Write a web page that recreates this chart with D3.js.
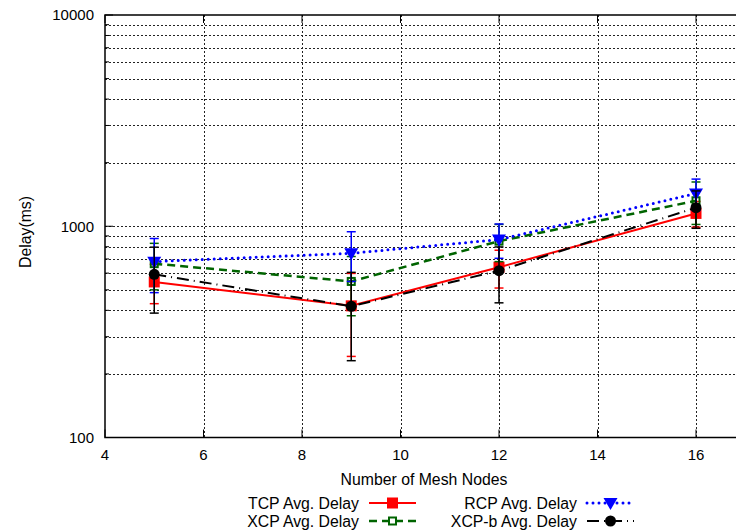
<!DOCTYPE html>
<html>
<head>
<meta charset="utf-8">
<script src="https://cdn.jsdelivr.net/npm/d3@7"></script>
<style>
  body { margin: 0; background: #fff; }
  text { font-family: "Liberation Sans", Arial, sans-serif; fill: #000; }
</style>
</head>
<body>
<script>
'use strict';

// node counts on the x axis
const nodes = [5, 9, 12, 16];

// average delay (ms) and error (std) per protocol
const tcpDelay = [545, 420, 640, 1150];
const tcpErr = [115, 178, 130, 160];
const xcpDelay = [665, 548, 850, 1320];
const xcpErr = [165, 171, 170, 300];
const rcpDelay = [680, 745, 865, 1430];
const rcpErr = [195, 197, 160, 242];
const xcpbDelay = [592, 418, 616, 1224];
const xcpbErr = [204, 187, 182, 246];

// tick labels
const xTicks = [4, 6, 8, 10, 12, 14, 16];
const yMajor = [100, 1000, 10000];

(function() {
  const W = 736, H = 531;
  const plotLeft = 105, plotTop = 15, plotBottom = 437.5;
  const wordSize = '15.8px';

  const svg = d3.select('body').append('svg')
    .attr('width', W)
    .attr('height', H);

  // x range goes past the window edge, the picture is cut at the right
  const x = d3.scaleLinear().domain([4, 18]).range([plotLeft, plotLeft + 14 * 49.25]);
  const y = d3.scaleLog().domain([100, 10000]).range([plotBottom, plotTop]);
  const plotRight = x(18);

  // minor y values for grid + ticks
  let yMinor = [];
  [100, 1000].forEach((d) => {
    for (let k = 2; k <= 9; k++) yMinor.push(d * k);
  });

  // grid
  const grid = svg.append('g')
    .attr('stroke', '#222')
    .attr('stroke-width', 1)
    .attr('stroke-dasharray', '2,2');
  yMajor.concat(yMinor).forEach((v) => {
    if (v === 100 || v === 10000) return;
    grid.append('line')
      .attr('x1', plotLeft).attr('x2', plotRight)
      .attr('y1', Math.round(y(v)) + 0.5).attr('y2', Math.round(y(v)) + 0.5);
  });
  xTicks.forEach((v) => {
    if (v === 4) return;
    grid.append('line')
      .attr('x1', Math.round(x(v)) + 0.5).attr('x2', Math.round(x(v)) + 0.5)
      .attr('y1', plotTop).attr('y2', plotBottom);
  });

  // ticks (inward)
  const ticks = svg.append('g').attr('stroke', '#000').attr('stroke-width', 1);
  yMajor.forEach((v) => {
    ticks.append('line').attr('x1', plotLeft).attr('x2', plotLeft + 8)
      .attr('y1', y(v)).attr('y2', y(v));
  });
  yMinor.forEach((v) => {
    ticks.append('line').attr('x1', plotLeft).attr('x2', plotLeft + 4)
      .attr('y1', y(v)).attr('y2', y(v));
  });
  xTicks.forEach((v) => {
    ticks.append('line').attr('x1', x(v)).attr('x2', x(v))
      .attr('y1', plotBottom).attr('y2', plotBottom - 8);
    ticks.append('line').attr('x1', x(v)).attr('x2', x(v))
      .attr('y1', plotTop).attr('y2', plotTop + 8);
  });

  // frame
  svg.append('rect')
    .attr('x', plotLeft).attr('y', plotTop)
    .attr('width', plotRight - plotLeft).attr('height', plotBottom - plotTop)
    .attr('fill', 'none')
    .attr('stroke', '#000')
    .attr('stroke-width', 1.5);

  // tick labels
  svg.selectAll('.ylab')
    .data(yMajor)
    .enter()
    .append('text')
      .attr('x', 94)
      .attr('y', (d) => y(d))
      .attr('dy', '0.36em')
      .attr('text-anchor', 'end')
      .style('font-size', '15px')
      .text((d) => d);

  svg.selectAll('.xlab')
    .data(xTicks)
    .enter()
    .append('text')
      .attr('x', (d) => x(d))
      .attr('y', 460)
      .attr('text-anchor', 'middle')
      .style('font-size', '15px')
      .text((d) => d);

  // axis titles
  svg.append('text')
    .attr('x', 424)
    .attr('y', 485)
    .attr('text-anchor', 'middle')
    .style('font-size', wordSize)
    .text('Number of Mesh Nodes');

  svg.append('text')
    .attr('transform', 'translate(31, 232)rotate(-90)')
    .attr('text-anchor', 'middle')
    .style('font-size', wordSize)
    .text('Delay(ms)');

  // series definitions
  const series = [
    { name: 'TCP Avg. Delay', vals: tcpDelay, err: tcpErr, color: '#ff0000', dash: null, cap: 'butt', width: 2, marker: 'fsquare' },
    { name: 'XCP Avg. Delay', vals: xcpDelay, err: xcpErr, color: '#006400', dash: '8,5', cap: 'butt', width: 2.5, marker: 'osquare' },
    { name: 'RCP Avg. Delay', vals: rcpDelay, err: rcpErr, color: '#0000ff', dash: '0,6', cap: 'round', width: 3, marker: 'triangle' },
    { name: 'XCP-b Avg. Delay', vals: xcpbDelay, err: xcpbErr, color: '#000000', dash: '12,5,1,5', cap: 'butt', width: 2, marker: 'circle' }
  ];

  function drawMarker(g, kind, cx, cy, color) {
    if (kind === 'fsquare') {
      g.append('rect').attr('x', cx - 5.5).attr('y', cy - 5.5)
        .attr('width', 11).attr('height', 11).attr('fill', color);
    } else if (kind === 'osquare') {
      g.append('rect').attr('x', cx - 3.5).attr('y', cy - 3.5)
        .attr('width', 7).attr('height', 7)
        .attr('fill', 'none').attr('stroke', color).attr('stroke-width', 2);
    } else if (kind === 'triangle') {
      g.append('path')
        .attr('d', `M${cx - 7},${cy - 5}L${cx + 7},${cy - 5}L${cx},${cy + 7}Z`)
        .attr('fill', color);
    } else {
      g.append('circle').attr('cx', cx).attr('cy', cy).attr('r', 5.5).attr('fill', color);
    }
  }

  const line = d3.line()
    .x((d) => x(d[0]))
    .y((d) => y(d[1]));

  series.forEach((s) => {
    const g = svg.append('g');
    const pts = nodes.map((n, i) => [n, s.vals[i], s.err[i]]);

    g.append('path')
      .attr('d', line(pts))
      .attr('fill', 'none')
      .attr('stroke', s.color)
      .attr('stroke-width', s.width)
      .attr('stroke-linecap', s.cap)
      .attr('stroke-dasharray', s.dash);

    // error bars
    pts.forEach((p) => {
      const cx = x(p[0]);
      const y1 = y(p[1] + p[2]), y2 = y(p[1] - p[2]);
      g.append('line').attr('x1', cx).attr('x2', cx).attr('y1', y1).attr('y2', y2)
        .attr('stroke', s.color).attr('stroke-width', 1.5);
      [y1, y2].forEach((yy) => {
        g.append('line').attr('x1', cx - 4.5).attr('x2', cx + 4.5).attr('y1', yy).attr('y2', yy)
          .attr('stroke', s.color).attr('stroke-width', 1.5);
      });
    });

    pts.forEach((p) => drawMarker(g, s.marker, x(p[0]), y(p[1]), s.color));
  });

  // legend: two columns, filled top to bottom
  const legendPos = [
    { tx: 359, sx: 369, y: 503 },
    { tx: 359, sx: 369, y: 521 },
    { tx: 577, sx: 587, y: 503 },
    { tx: 577, sx: 587, y: 521 }
  ];
  series.forEach((s, i) => {
    const p = legendPos[i];
    svg.append('text')
      .attr('x', p.tx)
      .attr('y', p.y)
      .attr('dy', '0.36em')
      .attr('text-anchor', 'end')
      .style('font-size', wordSize)
      .text(s.name);
    svg.append('line')
      .attr('x1', p.sx).attr('x2', p.sx + 47)
      .attr('y1', p.y).attr('y2', p.y)
      .attr('stroke', s.color)
      .attr('stroke-width', s.width)
      .attr('stroke-linecap', s.cap)
      .attr('stroke-dasharray', s.dash);
    drawMarker(svg, s.marker, p.sx + 23.5, p.y, s.color);
  });
})();
</script>
</body>
</html>
